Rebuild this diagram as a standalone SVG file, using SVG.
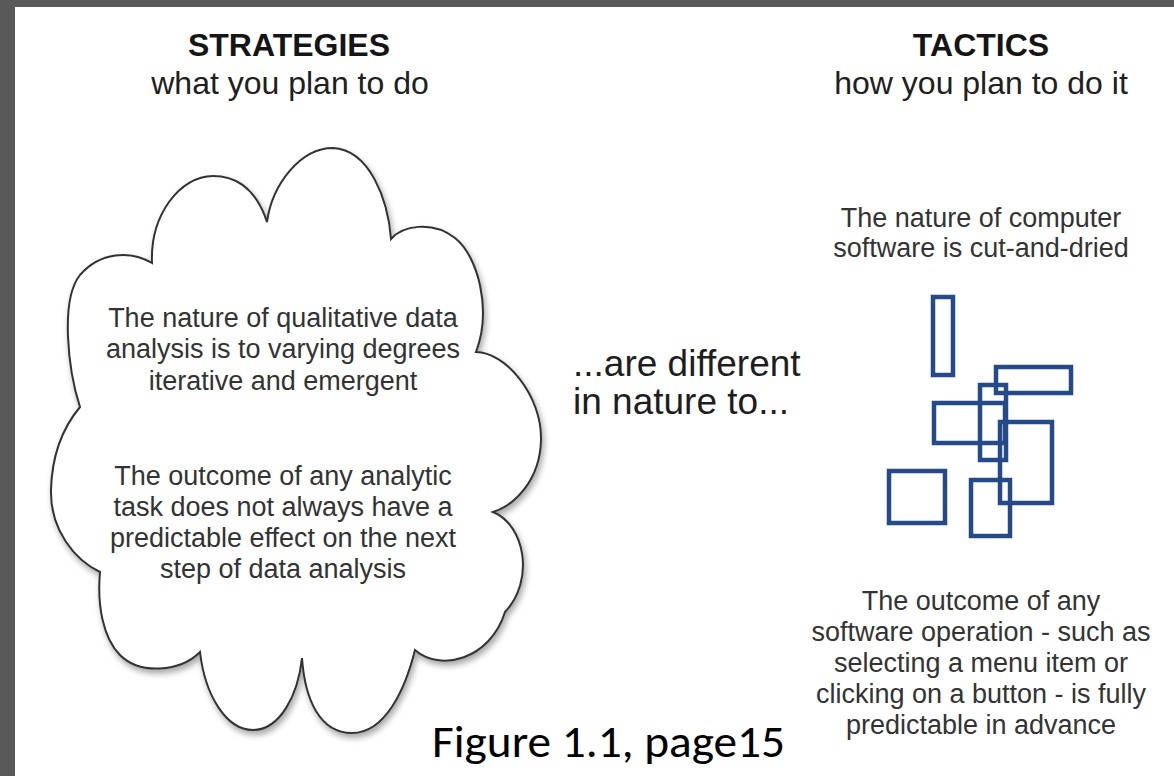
<svg xmlns="http://www.w3.org/2000/svg" width="1174" height="776" viewBox="0 0 1174 776">
  <defs>
    <style>
      .title { font-family: "Liberation Sans", Arial, sans-serif; font-weight: bold; font-size: 32px; fill: #151515; text-anchor: middle; }
      .sub { font-family: "Liberation Sans", Arial, sans-serif; font-size: 32px; fill: #202020; text-anchor: middle; }
      .body { font-family: "Liberation Sans", Arial, sans-serif; font-size: 27px; fill: #333333; text-anchor: middle; }
      .mid { font-family: "Liberation Sans", Arial, sans-serif; font-size: 37px; fill: #1e1e1e; }
      .cap { font-family: Carlito, Calibri, Lato, "Open Sans", sans-serif; font-size: 46px; fill: #000000; }
      .sq { fill: none; stroke: #244a8a; stroke-width: 4.5; }
    </style>
    <filter id="shadow" x="-10%" y="-10%" width="125%" height="125%">
      <feGaussianBlur in="SourceAlpha" stdDeviation="3"/>
      <feOffset dx="2" dy="4" result="b"/>
      <feComponentTransfer><feFuncA type="linear" slope="0.35"/></feComponentTransfer>
      <feMerge><feMergeNode/><feMergeNode in="SourceGraphic"/></feMerge>
    </filter>
  </defs>

  <rect x="0" y="0" width="1174" height="776" fill="#595959"/>
  <rect x="15" y="7" width="1159" height="769" fill="#ffffff"/>

  <g id="strategies-header">
    <text class="title" x="289" y="56">STRATEGIES</text>
    <text class="sub" x="290" y="94">what you plan to do</text>
  </g>

  <g id="tactics-header">
    <text class="title" x="981" y="56">TACTICS</text>
    <text class="sub" x="981" y="94">how you plan to do it</text>
  </g>

  <g id="cloud">
    <path filter="url(#shadow)" fill="#ffffff" stroke="#333333" stroke-width="2" stroke-linejoin="miter"
      d="M152,263 C150,215 180,176 213,176 C242,176 258,195 267,222
         C272,185 300,148 333,148 C370,150 388,200 391,239
         C402,226 432,220 455,238 C478,256 492,310 476,352
         C505,352 542,395 541,440 C540,480 515,505 493,512
         C525,525 535,580 505,612 C490,660 440,672 415,650
         C405,690 385,733 352,733 C320,733 305,700 302,658
         C298,695 280,730 253,730 C226,730 205,695 200,652
         C180,672 140,675 120,655 C103,638 97,605 100,572
         C75,560 50,530 51,490 C52,450 65,425 80,407
         C68,370 60,300 80,275 C100,252 130,250 152,263 Z"/>
    <text class="body" x="283" y="327">The nature of qualitative data</text>
    <text class="body" x="283" y="358">analysis is to varying degrees</text>
    <text class="body" x="283" y="390">iterative and emergent</text>
    <text class="body" x="283" y="485">The outcome of any analytic</text>
    <text class="body" x="283" y="516">task does not always have a</text>
    <text class="body" x="283" y="547">predictable effect on the next</text>
    <text class="body" x="283" y="578">step of data analysis</text>
  </g>

  <g id="middle-text">
    <text class="mid" x="573" y="376">...are different</text>
    <text class="mid" x="573" y="414">in nature to...</text>
  </g>

  <g id="tactics-top-text">
    <text class="body" x="981" y="227">The nature of computer</text>
    <text class="body" x="981" y="257">software is cut-and-dried</text>
  </g>

  <g id="rectangles">
    <rect class="sq" x="933" y="297" width="20" height="78"/>
    <rect class="sq" x="996" y="367" width="75" height="26"/>
    <rect class="sq" x="980" y="385" width="26" height="75"/>
    <rect class="sq" x="934" y="403" width="71" height="40"/>
    <rect class="sq" x="1000" y="422" width="52" height="81"/>
    <rect class="sq" x="889" y="471" width="56" height="52"/>
    <rect class="sq" x="971" y="480" width="39" height="56"/>
  </g>

  <g id="tactics-bottom-text">
    <text class="body" x="981" y="610">The outcome of any</text>
    <text class="body" x="981" y="641">software operation - such as</text>
    <text class="body" x="981" y="672">selecting a menu item or</text>
    <text class="body" x="981" y="703">clicking on a button - is fully</text>
    <text class="body" x="981" y="734">predictable in advance</text>
  </g>

  <g id="caption">
    <text class="cap" x="432" y="757" textLength="353" lengthAdjust="spacingAndGlyphs">Figure 1.1, page15</text>
  </g>
</svg>
